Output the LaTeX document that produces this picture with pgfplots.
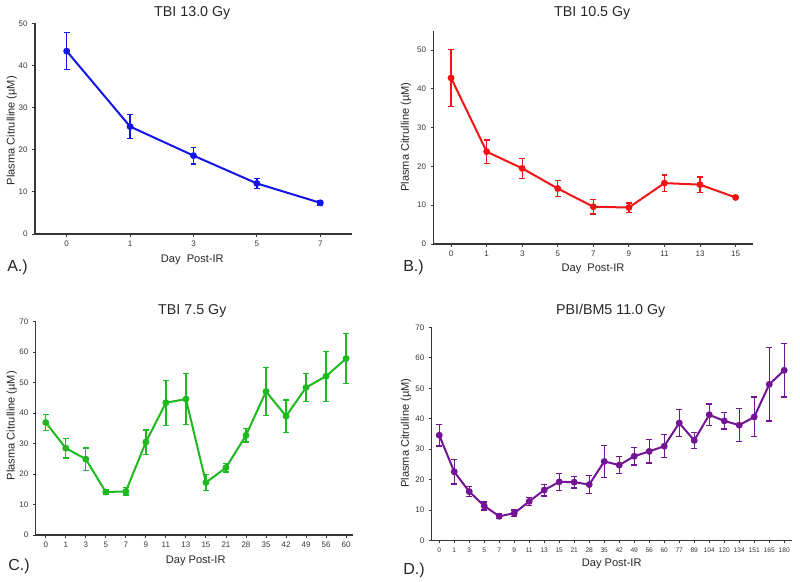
\documentclass[border=0pt]{standalone}
\usepackage{pgfplots}
\pgfplotsset{compat=1.18}
\usepackage{pgfplotstable}
\usepackage{fontspec}
\setmainfont{Liberation Sans}

\definecolor{cA}{RGB}{20,20,235}
\definecolor{cB}{RGB}{240,20,20}
\definecolor{cC}{RGB}{30,185,30}
\definecolor{cD}{RGB}{115,20,150}
\definecolor{axgray}{RGB}{55,55,55}

% x = category index, y = mean, e = error
\pgfplotstableread{
x y e
0 43.4 4.4
1 25.5 2.9
2 18.6 2.0
3 12.0 1.2
4 7.4 0.5
}\dataA
\pgfplotstableread{
x y e
0 42.8 7.4
1 23.8 3.0
2 19.5 2.6
3 14.3 2.0
4 9.6 1.9
5 9.4 1.2
6 15.7 2.1
7 15.3 2.0
8 12.0 0.3
}\dataB
\pgfplotstableread{
x y e
0 36.9 2.6
1 28.5 3.2
2 24.9 3.7
3 14.1 0.7
4 14.3 1.2
5 30.5 4.0
6 43.4 7.4
7 44.6 8.3
8 17.2 2.7
9 22.1 1.4
10 32.7 2.2
11 47.1 7.8
12 39.0 5.3
13 48.4 4.6
14 52.1 8.2
15 57.9 8.2
}\dataC
\pgfplotstableread{
x y e
0 34.6 3.5
1 22.6 4.0
2 16.1 1.6
3 11.4 1.3
4 8.0 0.7
5 9.0 1.1
6 12.9 1.3
7 16.6 1.9
8 19.3 2.8
9 19.2 1.9
10 18.4 3.0
11 26.0 5.2
12 24.8 2.8
13 27.7 2.9
14 29.3 3.8
15 31.0 3.8
16 38.6 4.4
17 32.9 2.6
18 41.3 3.5
19 39.3 2.7
20 37.9 5.4
21 40.6 6.5
22 51.3 12.0
23 55.9 8.8
}\dataD

\pgfplotsset{
  panel/.style={
    scale only axis,
    anchor=south west,
    axis lines=left,
    axis line style={-, draw=axgray, line width=0.9pt},
    tick align=outside,
    major tick length=2pt,
    every tick/.style={axgray, line width=0.7pt},
    tick label style={font=\fontsize{6}{7}\selectfont, text=axgray},
    /pgf/number format/assume math mode=true,
    ymin=0,
    xmin=-0.5,
    xtick=data,
    clip=false,
  },
  series/.style={
    color=#1, line width=1.5pt, mark=*, mark size=1.8pt,
    error bars/.cd, y dir=both, y explicit,
    error bar style={line width=1pt, color=#1},
    error mark options={rotate=90, mark size=2.2pt, line width=1pt, color=#1},
  },
}

\begin{document}
\begin{tikzpicture}
\begin{scope}[x=0.75pt, y=0.75pt]
  \path[use as bounding box] (0,0) rectangle (800,582);
\end{scope}

% A
\begin{axis}[panel, at={(26.25pt,261pt)}, width=237.75pt, height=158pt,
  xmax=4.5, ymax=50, ytick={0,10,20,30,40,50},
  yticklabels={0,10,20,30,40,50},
  xticklabels={0,1,3,5,7}]
  \addplot[series=cA] table[x=x, y=y, y error=e] {\dataA};
\end{axis}

% B
\begin{axis}[panel, at={(325pt,253.5pt)}, width=240pt, height=160pt,
  xmax=8.5, ymax=55, ytick={0,10,20,30,40,50},
  yticklabels={0,10,20,30,40,50},
  xticklabels={0,1,3,5,7,9,11,13,15}]
  \addplot[series=cB] table[x=x, y=y, y error=e] {\dataB};
\end{axis}

% C
\begin{axis}[panel, at={(26.8pt,35.25pt)}, width=237.75pt, height=160pt,
  xmax=15.33, ymax=70, ytick={0,10,20,30,40,50,60,70},
  yticklabels={0,10,20,30,40,50,60,70},
  xticklabels={0,1,3,5,7,9,11,13,15,21,28,35,42,49,56,60}]
  \addplot[series=cC] table[x=x, y=y, y error=e] {\dataC};
\end{axis}

% D
\begin{axis}[panel, at={(323.8pt,31pt)}, width=270pt, height=160pt,
  xmax=23.5, ymax=70, ytick={0,10,20,30,40,50,60,70},
  yticklabels={0,10,20,30,40,50,60,70},
  xticklabel style={font=\fontsize{5}{6}\selectfont},
  xticklabels={0,1,3,5,7,9,11,13,15,21,28,35,42,49,56,60,77,89,104,120,134,151,165,180}]
  \addplot[series=cD] table[x=x, y=y, y error=e] {\dataD};
\end{axis}

\begin{scope}[x=0.75pt, y=0.75pt]
  \tikzset{ttl/.style={font=\fontsize{10.7}{12}\selectfont, text=black!85},
           lbl/.style={font=\fontsize{8.3}{9}\selectfont, text=black!85},
           let/.style={font=\fontsize{12}{13}\selectfont, anchor=west, inner sep=0pt, text=black!85}}
  \node[ttl] at (192.3,569) {TBI 13.0 Gy};
  \node[ttl] at (592.3,568.7) {TBI 10.5 Gy};
  \node[ttl] at (192.3,271.3) {TBI 7.5 Gy};
  \node[ttl] at (610.7,271.3) {PBI/BM5 11.0 Gy};

  \node[lbl] at (192.3,322) {Day\ \ Post-IR};
  \node[lbl] at (593,312.7) {Day\ \ Post-IR};
  \node[lbl] at (195.7,21.3) {Day Post-IR};
  \node[lbl] at (611.7,18) {Day Post-IR};

  \node[lbl, rotate=90] at (11.7,451.3) {Plasma Citrulline (µM)};
  \node[lbl, rotate=90] at (406,445) {Plasma Citrulline (µM)};
  \node[lbl, rotate=90] at (11.7,156.3) {Plasma Citrulline (µM)};
  \node[lbl, rotate=90] at (406,149) {Plasma Citrulline (µM)};

  \node[let] at (7,315) {A.)};
  \node[let] at (403,315) {B.)};
  \node[let] at (8,15.3) {C.)};
  \node[let] at (403,12) {D.)};
\end{scope}
\end{tikzpicture}
\end{document}
